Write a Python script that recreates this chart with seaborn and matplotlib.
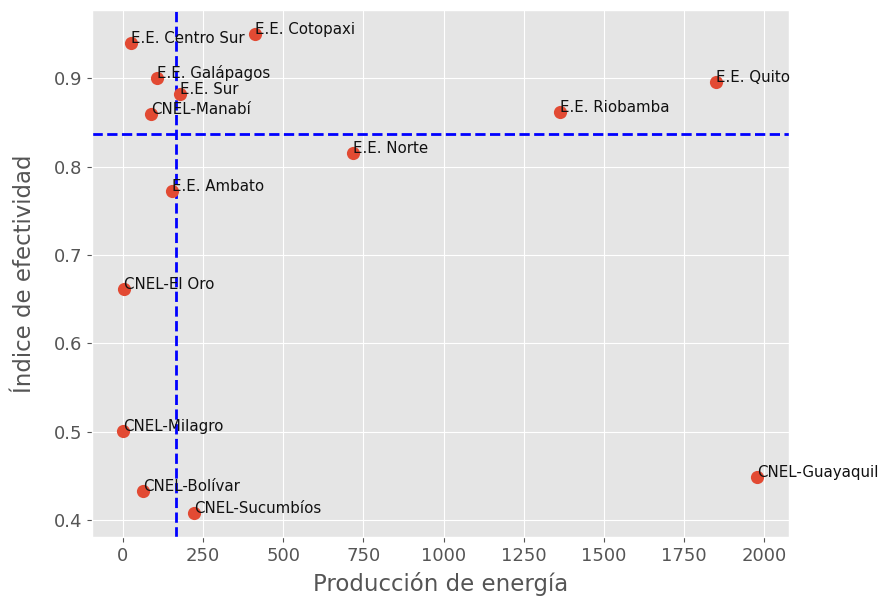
import matplotlib
matplotlib.use("Agg")
import matplotlib.pyplot as plt
import seaborn as sns
import numpy as np
import pandas as pd

empresas = ["E.E. Centro Sur", "E.E. Cotopaxi", "E.E. Galápagos", "E.E. Sur",
            "CNEL-Manabí", "E.E. Norte", "E.E. Ambato", "CNEL-El Oro",
            "CNEL-Milagro", "CNEL-Bolívar", "CNEL-Sucumbíos", "E.E. Riobamba",
            "E.E. Quito", "CNEL-Guayaquil"]
produccion = [27, 411, 106, 178, 88, 719, 153, 5, 1, 62, 221, 1364, 1851, 1978]
efectividad = [0.940, 0.950, 0.900, 0.8825, 0.859, 0.815, 0.772, 0.661,
               0.501, 0.433, 0.4077, 0.862, 0.896, 0.449]

df = pd.DataFrame({"empresa": empresas, "produccion": produccion,
                   "efectividad": efectividad})

plt.style.use("ggplot")
fig = plt.figure(figsize=(8.85, 5.96), dpi=100)
ax = fig.add_axes([0.104, 0.099, 0.7875, 0.884])

sns.scatterplot(data=df, x="produccion", y="efectividad", ax=ax,
                color="#E24A33", s=90, linewidth=0, zorder=3)

for name, xv, yv in zip(empresas, produccion, efectividad):
    ax.text(xv, yv, name, fontsize=10.8, color="#111111", zorder=4)

ax.axvline(np.median(produccion), color="blue", linestyle="--", linewidth=2, zorder=2)
ax.axhline(np.median(efectividad), color="blue", linestyle="--", linewidth=2, zorder=2)

ax.set_xlabel("Producción de energía", fontsize=16.5, color="#555555", labelpad=5)
ax.set_ylabel("Índice de efectividad", fontsize=16.5, color="#555555", labelpad=13)
ax.tick_params(axis="both", labelsize=13, colors="#555555")
ax.set_xticks([0, 250, 500, 750, 1000, 1250, 1500, 1750, 2000])
ax.set_yticks([0.4, 0.5, 0.6, 0.7, 0.8, 0.9])
ax.set_xlim(-96, 2077)
ax.set_ylim(0.3807, 0.9771)

fig.savefig("out.png", dpi=100)
